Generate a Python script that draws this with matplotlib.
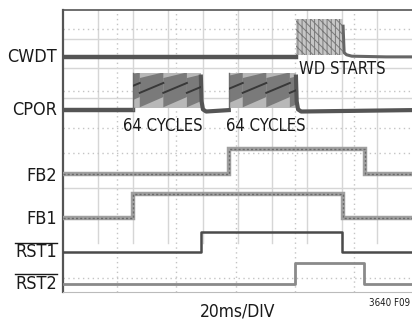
import numpy as np
import matplotlib
matplotlib.use("Agg")
import matplotlib.pyplot as plt
from matplotlib import font_manager as fm
from matplotlib.patches import Rectangle, Polygon
from matplotlib.transforms import blended_transform_factory
from matplotlib.lines import Line2D

# look for a narrow sans face (the figure uses a condensed Helvetica)
narrow = None
for f in fm.fontManager.ttflist:
    if ("Narrow" in f.name or "Condensed" in f.fname or "Narrow" in f.fname) \
            and "Bold" not in f.fname and "Oblique" not in f.fname and "Italic" not in f.fname:
        narrow = f
        break
if narrow is not None:
    FONT = dict(family=[narrow.name, "DejaVu Sans"], stretch=narrow.stretch)
    SCALE = 1.0
else:
    FONT = dict(family=["Liberation Sans", "DejaVu Sans"])
    SCALE = 0.86

plt.rcParams['hatch.linewidth'] = 0.7

# time axis: 10 div x 20 ms, vertical: 8 div
T_END = 200.0

# channel levels (div): (low, high)
CWDT_LVL = (6.67, 7.74)
CPOR_LVL = (5.16, 6.21)
FB2_LVL = (3.35, 4.06)
FB1_LVL = (2.10, 2.78)
RST1_LVL = (1.13, 1.70)
RST2_LVL = (0.23, 0.82)

# edges (ms)
FB1_EDGES = [40, 160.5]
FB2_EDGES = [95, 173]
RST1_EDGES = [79, 160]
RST2_EDGES = [133, 172.5]
CPOR_BURSTS = [(40, 79), (95, 133.5)]
CPOR_TEETH = [[30.5, 44, 57.5, 71], [89.5, 103, 116.5, 130]]
CWDT_BURST = (133.5, 160.5)

fig = plt.figure(figsize=(4.12, 3.22), dpi=100)
ax = fig.add_axes([63 / 412, 30 / 322, 349 / 412, 282 / 322])
ax.set_xlim(0, T_END)
ax.set_ylim(0, 8)
ax.set_xticks([])
ax.set_yticks([])
ax.spines["right"].set_visible(False)
ax.spines["left"].set_color("#555555")
ax.spines["left"].set_linewidth(1.6)
ax.spines["top"].set_color("#555555")
ax.spines["top"].set_linewidth(1.2)
ax.spines["bottom"].set_color("#bbbbbb")
ax.spines["bottom"].set_linewidth(0.8)

# grid (scope graticule, patched from several captures)
for x in np.arange(20, 200, 20):
    ax.plot([x, x], [1.4, 8], color="#d6d6d6", lw=1.0, zorder=0)
for x in [31, 65, 99, 133, 167]:
    ax.plot([x, x], [0, 8], color="#c4c4c4", lw=1.0, ls=(0, (1, 2.5)), zorder=0)
for y in [7.18, 6.35, 5.50, 2.95]:
    ax.axhline(y, color="#d6d6d6", lw=1.0, zorder=0)
for y in [7.46, 5.70, 4.65, 3.94, 0.40]:
    ax.axhline(y, color="#c4c4c4", lw=1.0, ls=(0, (1, 2.5)), zorder=0)


def step_trace(edges, lvl):
    lo, hi = lvl
    xs, ys = [0], [lo]
    state = lo
    for e in edges:
        xs += [e, e]
        ys += [state, hi if state == lo else lo]
        state = ys[-1]
    xs.append(T_END)
    ys.append(state)
    return xs, ys


# FB2 / FB1: noisy gray bands
for edges, lvl in ((FB2_EDGES, FB2_LVL), (FB1_EDGES, FB1_LVL)):
    xs, ys = step_trace(edges, lvl)
    ax.plot(xs, ys, color="#a0a0a0", lw=3.2, solid_joinstyle="miter", zorder=3)
    ax.plot(xs, ys, color="#6a6a6a", lw=1.0, ls=(0, (1.5, 1.5)), zorder=4)

# RST1 / RST2
xs, ys = step_trace(RST1_EDGES, RST1_LVL)
ax.plot(xs, ys, color="#4a4a4a", lw=1.8, zorder=3)
xs, ys = step_trace(RST2_EDGES, RST2_LVL)
ax.plot(xs, ys, color="#8a8a8a", lw=2.0, zorder=3)

# CPOR
lo, hi = CPOR_LVL
ax.plot([0, CPOR_BURSTS[0][0]], [lo, lo], color="#555555", lw=3.2, zorder=3)
for (b0, b1), teeth in zip(CPOR_BURSTS, CPOR_TEETH):
    clip = Rectangle((b0, lo + 0.06), b1 - b0, hi - lo - 0.06,
                     facecolor="#b8b8b8", edgecolor="none", zorder=2)
    ax.add_patch(clip)
    per = teeth[1] - teeth[0]
    for t0 in teeth:
        t1 = t0 + per
        band = Polygon([(t0, hi - 0.14), (t1, hi + 0.02), (t1, lo + 0.37), (t0, lo + 0.08)],
                       closed=True, facecolor="#7a7a7a", edgecolor="none", zorder=3)
        ax.add_patch(band)
        band.set_clip_path(clip)
        ln, = ax.plot([t0, t1], [lo + 0.49, lo + 0.77], color="#383838", lw=1.4, zorder=4)
        ln.set_clip_path(clip)
    ax.plot([b0, b0], [lo, hi], color="#6e6e6e", lw=1.0, zorder=3)
nxt = [CPOR_BURSTS[1][0], T_END]
for (b0, b1), x_end in zip(CPOR_BURSTS, nxt):
    ax.plot([b1, b1 + 0.4, b1 + 1.2, b1 + 3, x_end],
            [hi - 0.1, lo + 0.25, lo + 0.02, lo - 0.04, lo],
            color="#555555", lw=3.0, zorder=3)

# CWDT
lo, hi = CWDT_LVL
ax.plot([0, CWDT_BURST[0]], [lo, lo], color="#555555", lw=3.2, zorder=3)
ax.add_patch(Rectangle((CWDT_BURST[0], lo + 0.05), CWDT_BURST[1] - CWDT_BURST[0],
                       hi - lo - 0.05, facecolor="#c6c6c6", edgecolor="#7a7a7a",
                       hatch="\\\\\\\\||||", lw=0, zorder=3))
ax.plot([CWDT_BURST[1], CWDT_BURST[1] + 0.6, CWDT_BURST[1] + 2, CWDT_BURST[1] + 5, 185, T_END],
        [hi - 0.2, lo + 0.12, lo + 0.06, lo + 0.02, lo, lo],
        color="#666666", lw=2.2, zorder=3)

# annotations
ax.text(57, 4.72, "64 CYCLES", fontsize=12 * SCALE, ha="center", va="center",
        color="#1a1a1a", **FONT)
ax.text(116, 4.72, "64 CYCLES", fontsize=12 * SCALE, ha="center", va="center",
        color="#1a1a1a", **FONT)
ax.text(135, 6.33, "WD STARTS", fontsize=12 * SCALE, ha="left", va="center",
        color="#1a1a1a", **FONT)

# channel labels
tr = blended_transform_factory(ax.transAxes, ax.transData)
labels = [("CWDT", 6.67), ("CPOR", 5.16), ("FB2", 3.29), ("FB1", 2.07),
          ("RST1", 1.13), ("RST2", 0.23)]
txts = {}
for name, y in labels:
    txts[name] = ax.text(-0.018, y, name, transform=tr, fontsize=13 * SCALE, ha="right",
                         va="center", color="#1a1a1a", **FONT)

fig.text(238 / 412, 1 - 312 / 322, "20ms/DIV", fontsize=12.5 * SCALE, ha="center",
         va="center", color="#1a1a1a", **FONT)
fig.text(410 / 412, 1 - 303 / 322, "3640 F09", fontsize=7 * SCALE, ha="right",
         va="center", color="#1a1a1a", **FONT)

# overbars on reset labels
fig.canvas.draw()
r = fig.canvas.get_renderer()
for name in ("RST1", "RST2"):
    bb = txts[name].get_window_extent(r)
    y = bb.y1 + 0.5
    fig.add_artist(Line2D([bb.x0 / fig.bbox.width, bb.x1 / fig.bbox.width],
                          [y / fig.bbox.height, y / fig.bbox.height],
                          color="#1a1a1a", lw=1.0))

fig.savefig("out.png", dpi=100, facecolor="white")
